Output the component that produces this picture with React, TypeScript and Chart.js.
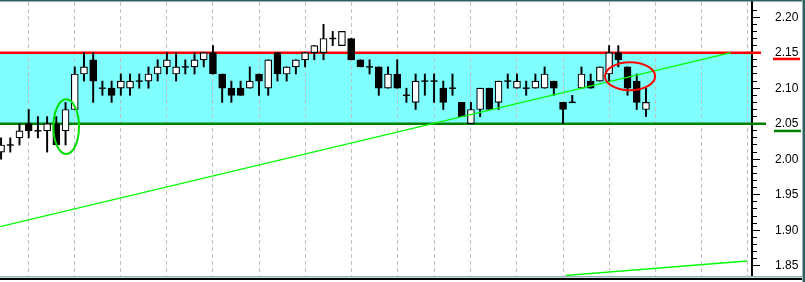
import React, { useEffect, useRef } from 'react';
import { Chart, registerables } from 'chart.js';

Chart.register(...registerables);

// ---- Data ----
const opens = [
  2.01, 2.02, 2.03, 2.05, 2.04, 2.04, 2.05, 2.04, 2.07, 2.12,
  2.14, 2.10, 2.10, 2.10, 2.10, 2.11, 2.11, 2.12, 2.13, 2.12,
  2.13, 2.13, 2.14, 2.15, 2.12, 2.10, 2.10, 2.10, 2.12, 2.10,
  2.15, 2.12, 2.13, 2.14, 2.15, 2.15, 2.17, 2.16, 2.17, 2.14,
  2.13, 2.13, 2.10, 2.12, 2.09, 2.08, 2.11, 2.11, 2.10, 2.10,
  2.08, 2.05, 2.07, 2.10, 2.08, 2.11, 2.10, 2.10, 2.10, 2.10,
  2.11, 2.08, 2.08, 2.10, 2.11, 2.11, 2.12, 2.15, 2.13, 2.11,
  2.07,
];
const highs = [
  2.03, 2.03, 2.05, 2.07, 2.06, 2.06, 2.06, 2.08, 2.13, 2.15,
  2.15, 2.11, 2.11, 2.12, 2.12, 2.12, 2.13, 2.14, 2.15, 2.15,
  2.14, 2.15, 2.15, 2.16, 2.12, 2.11, 2.11, 2.13, 2.12, 2.14,
  2.15, 2.13, 2.14, 2.15, 2.16, 2.19, 2.18, 2.18, 2.17, 2.14,
  2.14, 2.13, 2.13, 2.14, 2.10, 2.12, 2.12, 2.12, 2.11, 2.12,
  2.08, 2.08, 2.10, 2.10, 2.11, 2.12, 2.12, 2.11, 2.12, 2.13,
  2.11, 2.08, 2.09, 2.13, 2.12, 2.13, 2.16, 2.16, 2.13, 2.12,
  2.10,
];
const lows = [
  2.00, 2.01, 2.02, 2.03, 2.03, 2.01, 2.02, 2.02, 2.07, 2.11,
  2.08, 2.09, 2.08, 2.09, 2.09, 2.10, 2.10, 2.11, 2.12, 2.11,
  2.12, 2.12, 2.13, 2.12, 2.08, 2.08, 2.09, 2.10, 2.09, 2.09,
  2.11, 2.11, 2.12, 2.13, 2.14, 2.14, 2.16, 2.16, 2.14, 2.13,
  2.12, 2.09, 2.10, 2.10, 2.08, 2.07, 2.09, 2.08, 2.07, 2.09,
  2.06, 2.05, 2.06, 2.07, 2.07, 2.10, 2.10, 2.09, 2.10, 2.10,
  2.09, 2.05, 2.08, 2.10, 2.10, 2.11, 2.11, 2.13, 2.09, 2.07,
  2.06,
];
const closes = [
  2.02, 2.02, 2.04, 2.04, 2.04, 2.05, 2.02, 2.07, 2.12, 2.13,
  2.11, 2.10, 2.09, 2.11, 2.11, 2.11, 2.12, 2.13, 2.14, 2.13,
  2.13, 2.14, 2.15, 2.12, 2.10, 2.09, 2.09, 2.11, 2.11, 2.14,
  2.12, 2.13, 2.14, 2.15, 2.16, 2.17, 2.17, 2.18, 2.14, 2.13,
  2.13, 2.10, 2.12, 2.10, 2.09, 2.11, 2.11, 2.11, 2.08, 2.10,
  2.06, 2.07, 2.10, 2.07, 2.11, 2.11, 2.11, 2.10, 2.11, 2.12,
  2.10, 2.07, 2.08, 2.12, 2.10, 2.13, 2.15, 2.14, 2.10, 2.08,
  2.08,
];

// bar indices where the vertical (period separator) grid lines fall
const separatorIndices = [3, 8, 13, 18, 23, 28, 33, 38, 43, 47, 51, 56, 61, 66, 71, 76, 81];

// labelled price ticks on the right axis
const priceLabels = ['1.85', '1.90', '1.95', '2.00', '2.05', '2.10', '2.15', '2.20'];
const minorTickStep = 0.01;

// price range shown
const priceMin = 1.8355;
const priceMax = 2.2214;
const indexMin = -0.115;
const indexMax = 81.51;

// support / resistance band
const bandLow = 2.05;
const bandHigh = 2.15;

// trend lines (bar index, price)
const trendUpper = [
  { x: -0.115, y: 1.905 },
  { x: 79.23, y: 2.15 },
];
const trendLower = [
  { x: 61.3, y: 1.8362 },
  { x: 81.0, y: 1.8566 },
];

// highlight ellipses: centre (bar index, price) and radii
const ellipseGreen = { x: 7.07, y: 2.0458, rx: 1.39, ry: 0.0385 };
const ellipseRed = { x: 68.27, y: 2.1169, rx: 2.72, ry: 0.0197 };

const zeroPadding = (s: any) => {
  s.paddingTop = 0;
  s.paddingBottom = 0;
  s.paddingLeft = 0;
  s.paddingRight = 0;
};

export default function App() {
  const canvasRef = useRef<HTMLCanvasElement | null>(null);

  useEffect(() => {
    document.body.style.margin = '0';
    const canvas = canvasRef.current;
    if (!canvas) return;

    const bodies: any[] = [];
    const bodyColors: string[] = [];
    const dojis: any[] = [];
    const wicks: any[] = [];
    opens.forEach((o, i) => {
      const c = closes[i];
      wicks.push({ x: i, y: [lows[i], highs[i]] });
      if (Math.abs(o - c) < 1e-9) {
        dojis.push({ x: i, y: o });
      } else {
        bodies.push({ x: i, y: [Math.min(o, c), Math.max(o, c)] });
        bodyColors.push(c > o ? '#ffffff' : '#000000');
      }
    });

    const isLabelled = (v: number) => priceLabels.includes(Number(v).toFixed(2));

    const overlay = {
      id: 'overlay',
      beforeDraw(chart: any) {
        const { ctx, chartArea: a, scales } = chart;
        const y = scales.y;
        const yTop = y.getPixelForValue(bandHigh);
        const yBot = y.getPixelForValue(bandLow);
        ctx.save();
        ctx.fillStyle = '#80ffff';
        ctx.fillRect(a.left, yTop, a.right - a.left, yBot - yTop);
        ctx.restore();
      },
      beforeDatasetsDraw(chart: any) {
        const { ctx, chartArea: a, scales } = chart;
        const y = scales.y;
        const yTop = y.getPixelForValue(bandHigh);
        const yBot = y.getPixelForValue(bandLow);
        ctx.save();
        ctx.lineWidth = 2.5;
        ctx.strokeStyle = '#ff0000';
        ctx.beginPath();
        ctx.moveTo(a.left, yTop);
        ctx.lineTo(a.right + 9, yTop);
        ctx.stroke();
        ctx.strokeStyle = '#008000';
        ctx.beginPath();
        ctx.moveTo(a.left, yBot);
        ctx.lineTo(a.right + 14, yBot);
        ctx.stroke();
        ctx.restore();
      },
      afterDatasetsDraw(chart: any) {
        const { ctx, chartArea: a, scales } = chart;
        const x = scales.x;
        const y = scales.y;
        const drawEllipse = (e: any, color: string) => {
          const cx = x.getPixelForValue(e.x);
          const cy = y.getPixelForValue(e.y);
          const rx = Math.abs(x.getPixelForValue(e.x + e.rx) - cx);
          const ry = Math.abs(y.getPixelForValue(e.y + e.ry) - cy);
          ctx.beginPath();
          ctx.ellipse(cx, cy, rx, ry, 0, 0, Math.PI * 2);
          ctx.strokeStyle = color;
          ctx.lineWidth = 2;
          ctx.stroke();
        };
        ctx.save();
        ctx.beginPath();
        ctx.rect(a.left, a.top, a.right - a.left, a.bottom - a.top);
        ctx.clip();
        drawEllipse(ellipseGreen, '#00e000');
        drawEllipse(ellipseRed, '#ff0000');
        ctx.restore();
      },
      afterDraw(chart: any) {
        const { ctx, chartArea: a, scales, width, height } = chart;
        const y = scales.y;
        const yTop = y.getPixelForValue(bandHigh);
        const yBot = y.getPixelForValue(bandLow);
        ctx.save();
        // price markers under the band labels
        ctx.fillStyle = '#ff0000';
        ctx.fillRect(a.right + 21, yTop + 5, 27, 2.5);
        ctx.fillStyle = '#008000';
        ctx.fillRect(a.right + 22, yBot + 6, 27, 2.5);
        // window frame
        ctx.fillStyle = '#335f5f';
        ctx.fillRect(0, 0, width, 1.5);
        ctx.fillStyle = '#8fb5b5';
        ctx.fillRect(0, a.bottom, width, 1.5);
        ctx.fillStyle = '#000000';
        ctx.fillRect(0, a.bottom + 2, width, 2);
        ctx.fillStyle = '#8fb5b5';
        ctx.fillRect(width - 3, 0, 1, height);
        ctx.fillStyle = '#335f5f';
        ctx.fillRect(width - 2, 0, 2, height);
        ctx.restore();
      },
    };

    const chart = new Chart(canvas, {
      type: 'bar',
      data: {
        datasets: [
          {
            type: 'line',
            data: trendUpper,
            borderColor: '#00ff00',
            borderWidth: 1.3,
            pointRadius: 0,
            fill: false,
          } as any,
          {
            type: 'line',
            data: trendLower,
            borderColor: '#00ff00',
            borderWidth: 1.3,
            pointRadius: 0,
            fill: false,
          } as any,
          {
            type: 'scatter',
            data: dojis,
            pointStyle: 'line',
            radius: 3.5,
            borderColor: '#000000',
            borderWidth: 1.4,
          } as any,
          {
            type: 'bar',
            data: bodies,
            backgroundColor: bodyColors,
            borderColor: '#000000',
            borderWidth: 1.2,
            borderSkipped: false,
            barThickness: 7,
            grouped: false,
          } as any,
          {
            type: 'bar',
            data: wicks,
            backgroundColor: '#000000',
            borderWidth: 0,
            barThickness: 1.3,
            grouped: false,
          } as any,
        ],
      },
      options: {
        animation: false,
        responsive: false,
        maintainAspectRatio: false,
        layout: { autoPadding: false, padding: { top: 2, bottom: 6, left: 0, right: 0 } },
        plugins: {
          legend: { display: false },
          tooltip: { enabled: false },
        },
        events: [],
        scales: {
          x: {
            type: 'linear',
            min: indexMin,
            max: indexMax,
            offset: false,
            afterBuildTicks: (s: any) => {
              s.ticks = separatorIndices.map((v) => ({ value: v }));
            },
            afterFit: (s: any) => {
              s.height = 0;
              zeroPadding(s);
            },
            ticks: { display: false },
            grid: {
              color: '#c0c0c0',
              lineWidth: 1,
              drawTicks: false,
              offset: false,
            },
            border: { display: false, dash: [4, 3] },
          },
          y: {
            type: 'linear',
            position: 'right',
            min: priceMin,
            max: priceMax,
            beginAtZero: false,
            afterBuildTicks: (s: any) => {
              s.ticks = s.ticks.filter(
                (t: any) => Math.abs(t.value / minorTickStep - Math.round(t.value / minorTickStep)) < 1e-6
              );
            },
            afterFit: (s: any) => {
              s.width = 53;
              zeroPadding(s);
            },
            ticks: {
              stepSize: minorTickStep,
              autoSkip: false,
              padding: 15,
              color: '#000000',
              font: { family: '"Liberation Sans", Arial, sans-serif', size: 12 },
              callback: (v: any) => (isLabelled(Number(v)) ? Number(v).toFixed(2) : ''),
            },
            grid: {
              drawOnChartArea: false,
              drawTicks: true,
              tickLength: 8,
              tickColor: '#000000',
              tickWidth: 1,
              tickBorderDash: (ctx: any) =>
                ctx.tick && isLabelled(ctx.tick.value) ? [] : [4, 40],
            } as any,
            border: { display: true, color: '#000000', width: 2 },
          },
        },
      } as any,
      plugins: [overlay],
    });

    return () => chart.destroy();
  }, []);

  return (
    <div style={{ width: 805, height: 282 }}>
      <canvas ref={canvasRef} width={805} height={282} style={{ display: 'block' }} />
    </div>
  );
}
